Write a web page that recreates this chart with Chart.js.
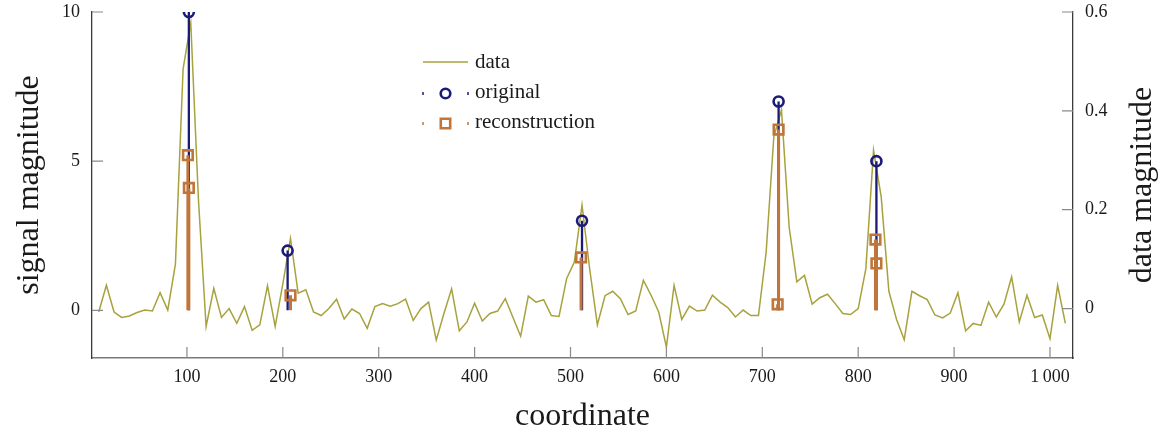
<!DOCTYPE html>
<html>
<head>
<meta charset="utf-8">
<script src="https://cdn.jsdelivr.net/npm/chart.js@4.4.1/dist/chart.umd.min.js"></script>
<style>
  html, body { margin: 0; padding: 0; background: #fff; }
  #wrap { width: 1171px; height: 437px; }
</style>
</head>
<body>
<div id="wrap"><canvas id="signalChart"></canvas></div>
<script>
// measured data (right axis), one sample every 8 coordinates, first at 8
var sampleStep = 8;
var dataValues = [
    -0.007, 0.047, -0.007, -0.018, -0.015, -0.008, -0.003, -0.005, 0.032, -0.003,
    0.090, 0.485, 0.578, 0.220, -0.036, 0.041, -0.018, 0.000, -0.030, 0.004,
    -0.044, -0.033, 0.046, -0.036, 0.050, 0.142, 0.031, 0.038, -0.007, -0.014,
    0.000, 0.019, -0.021, -0.001, -0.010, -0.040, 0.004, 0.010, 0.005, 0.010,
    0.019, -0.024, 0.000, 0.013, -0.064, -0.010, 0.040, -0.045, -0.027, 0.011,
    -0.025, -0.010, -0.005, 0.020, -0.018, -0.056, 0.025, 0.013, 0.018, -0.014,
    -0.016, 0.061, 0.094, 0.209, 0.080, -0.033, 0.026, 0.035, 0.020, -0.012,
    -0.005, 0.057, 0.027, -0.007, -0.078, 0.047, -0.022, 0.005, -0.005, -0.003,
    0.027, 0.013, 0.002, -0.017, -0.003, -0.014, -0.014, 0.114, 0.347, 0.402,
    0.165, 0.054, 0.067, 0.009, 0.022, 0.029, 0.010, -0.010, -0.012, 0.000,
    0.081, 0.320, 0.226, 0.035, -0.022, -0.063, 0.035, 0.026, 0.018, -0.013,
    -0.019, -0.009, 0.032, -0.045, -0.030, -0.034, 0.013, -0.017, 0.009, 0.064,
    -0.027, 0.027, -0.018, -0.013, -0.061, 0.047, -0.030
];

// original signal (left axis)
var originalX = [102, 205, 512, 717, 819];
var originalY = [10, 2, 3, 7, 5];

// reconstruction (left axis)
var reconX = [101, 102, 208, 511, 716, 717, 818, 819];
var reconY = [5.2, 4.1, 0.5, 1.77, 0.2, 6.06, 2.37, 1.57];

var xTicks = [100, 200, 300, 400, 500, 600, 700, 800, 900, 1000];
var leftTicks = [0, 5, 10];
var rightTicks = [0, 0.2, 0.4, 0.6];

var olive = '#a7a23e';
var navy = '#1b1b78';
var orange = '#c0763a';
var serif = '"Liberation Serif", "DejaVu Serif", serif';

Chart.defaults.font.family = serif;
Chart.defaults.color = '#1a1a1a';

var dataPoints = dataValues.map((v, i) => ({ x: (i + 1) * sampleStep, y: v }));

// stems: 0 -> value, then a gap
var stems = (xs, ys) => {
    var pts = [];
    xs.forEach((x, i) => {
        pts.push({ x: x, y: 0 }, { x: x, y: ys[i] }, { x: x, y: null });
    });
    return pts;
};
var markers = (xs, ys) => xs.map((x, i) => ({ x: x, y: ys[i] }));

// ticks drawn inward, like the original
var innerTicks = {
    id: 'innerTicks',
    afterDraw: function (chart) {
        var ctx = chart.ctx;
        var area = chart.chartArea;
        var len = 11;
        ctx.save();
        ctx.strokeStyle = '#8a8a8a';
        ctx.lineWidth = 1.2;
        ctx.beginPath();
        chart.scales.x.ticks.forEach(t => {
            var px = chart.scales.x.getPixelForValue(t.value);
            ctx.moveTo(px, area.bottom);
            ctx.lineTo(px, area.bottom - len);
        });
        chart.scales.y.ticks.forEach(t => {
            var py = chart.scales.y.getPixelForValue(t.value);
            ctx.moveTo(area.left, py);
            ctx.lineTo(area.left + len, py);
        });
        chart.scales.y1.ticks.forEach(t => {
            var py = chart.scales.y1.getPixelForValue(t.value);
            ctx.moveTo(area.right, py);
            ctx.lineTo(area.right - len, py);
        });
        ctx.stroke();

        // right axis title reads bottom to top
        ctx.fillStyle = '#1a1a1a';
        ctx.font = '32px ' + serif;
        ctx.textAlign = 'center';
        ctx.textBaseline = 'middle';
        ctx.translate(1143, (area.top + area.bottom) / 2);
        ctx.rotate(-Math.PI / 2);
        ctx.fillText('data magnitude', 0, 0);
        ctx.restore();
    }
};

var legendBox = {
    id: 'legendBox',
    afterDraw: function (chart) {
        var ctx = chart.ctx;
        var x0 = 423, y0 = 62, gap = 30, textX = 475;
        ctx.save();
        ctx.strokeStyle = olive;
        ctx.lineWidth = 1.5;
        ctx.beginPath();
        ctx.moveTo(x0, y0);
        ctx.lineTo(x0 + 45, y0);
        ctx.stroke();

        var rows = [[navy, 'circle'], [orange, 'rect']];
        rows.forEach((r, i) => {
            var y = y0 + gap * (i + 1) + 1.5;
            ctx.strokeStyle = r[0];
            ctx.lineWidth = 1.5;
            ctx.beginPath();
            ctx.moveTo(x0, y - 1.5); ctx.lineTo(x0, y + 1.5);
            ctx.moveTo(x0 + 45, y - 1.5); ctx.lineTo(x0 + 45, y + 1.5);
            ctx.stroke();
            ctx.lineWidth = 2.6;
            ctx.beginPath();
            if (r[1] === 'circle') {
                ctx.arc(x0 + 22.5, y, 4.8, 0, Math.PI * 2);
            } else {
                ctx.rect(x0 + 22.5 - 4.7, y - 4.7, 9.4, 9.4);
            }
            ctx.stroke();
        });

        ctx.fillStyle = '#1a1a1a';
        ctx.font = '21px ' + serif;
        ctx.textBaseline = 'middle';
        ['data', 'original', 'reconstruction'].forEach((t, i) => {
            ctx.fillText(t, textX, y0 + gap * i);
        });
        ctx.restore();
    }
};

var ctx = document.getElementById('signalChart').getContext('2d');
var signalChart = new Chart(ctx, {
    type: 'line',
    data: {
        datasets: [
            {
                label: 'reconstruction markers',
                data: markers(reconX, reconY),
                yAxisID: 'y',
                showLine: false,
                pointStyle: 'rect',
                pointRadius: 6.8,
                pointBorderWidth: 2.6,
                pointBorderColor: orange,
                pointBackgroundColor: 'rgba(0,0,0,0)',
                order: 1
            },
            {
                label: 'reconstruction',
                data: stems(reconX, reconY),
                yAxisID: 'y',
                borderColor: orange,
                borderWidth: 3,
                pointRadius: 0,
                spanGaps: false,
                order: 2
            },
            {
                label: 'original markers',
                data: markers(originalX, originalY),
                yAxisID: 'y',
                showLine: false,
                pointStyle: 'circle',
                pointRadius: 5,
                pointBorderWidth: 2.6,
                pointBorderColor: navy,
                pointBackgroundColor: 'rgba(0,0,0,0)',
                order: 3
            },
            {
                label: 'original',
                data: stems(originalX, originalY),
                yAxisID: 'y',
                borderColor: navy,
                borderWidth: 2.3,
                pointRadius: 0,
                spanGaps: false,
                order: 4
            },
            {
                label: 'data',
                data: dataPoints,
                yAxisID: 'y1',
                borderColor: olive,
                borderWidth: 1.5,
                pointRadius: 0,
                tension: 0,
                order: 5
            }
        ]
    },
    options: {
        responsive: true,
        maintainAspectRatio: false,
        animation: false,
        layout: {
            padding: { top: 12, left: 0, right: 0, bottom: 0 }
        },
        plugins: {
            legend: { display: false },
            tooltip: { enabled: false }
        },
        scales: {
            x: {
                type: 'linear',
                min: 1,
                max: 1024,
                grid: { display: false },
                border: { display: true, color: '#7a7a7a', width: 1.6 },
                afterBuildTicks: function (scale) {
                    scale.ticks = xTicks.map(v => ({ value: v }));
                },
                afterFit: function (scale) {
                    scale.height = 79;
                    scale.paddingLeft = 0;
                    scale.paddingRight = 0;
                },
                ticks: {
                    font: { size: 18 },
                    padding: 0,
                    maxRotation: 0,
                    callback: function (value) {
                        return value === 1000 ? '1\u2009000' : String(value);
                    }
                },
                title: {
                    display: true,
                    text: 'coordinate',
                    font: { size: 32 },
                    padding: { top: 0, bottom: 1 }
                }
            },
            y: {
                type: 'linear',
                position: 'left',
                min: -1.6,
                max: 10,
                grid: { display: false },
                border: { display: true, color: '#3a3a3a', width: 1.3 },
                afterBuildTicks: function (scale) {
                    scale.ticks = leftTicks.map(v => ({ value: v }));
                },
                afterFit: function (scale) {
                    scale.width = 92;
                    scale.paddingTop = 0;
                    scale.paddingBottom = 0;
                },
                ticks: {
                    font: { size: 18 },
                    padding: 4
                },
                title: {
                    display: true,
                    text: 'signal magnitude',
                    font: { size: 32 },
                    padding: { top: 10, bottom: 0 }
                }
            },
            y1: {
                type: 'linear',
                position: 'right',
                min: -0.1,
                max: 0.6,
                grid: { display: false },
                border: { display: true, color: '#3a3a3a', width: 1.3 },
                afterBuildTicks: function (scale) {
                    scale.ticks = rightTicks.map(v => ({ value: v }));
                },
                afterFit: function (scale) {
                    scale.width = 98;
                    scale.paddingTop = 0;
                    scale.paddingBottom = 0;
                },
                ticks: {
                    font: { size: 18 },
                    padding: 4,
                    callback: function (value) {
                        return value === 0 ? '0' : value.toFixed(1);
                    }
                }
            }
        }
    },
    plugins: [innerTicks, legendBox]
});
</script>
</body>
</html>
